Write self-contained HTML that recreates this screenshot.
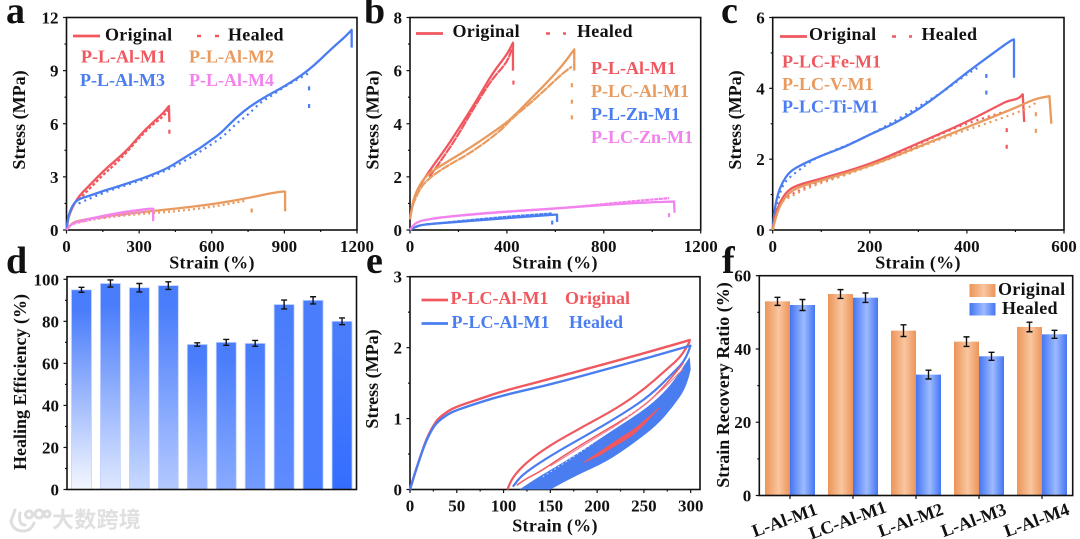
<!DOCTYPE html>
<html lang="en">
<head>
<meta charset="utf-8">
<title>Stress-strain and healing charts</title>
<style>
html,body{margin:0;padding:0;background:#fff;}
#figure{display:block;width:1080px;height:539px;filter:blur(0.35px);}
text{font-family:"Liberation Serif","Noto Serif CJK SC",serif;font-weight:bold;fill:#111;}
.t{font-size:18px;}
.letter{font-size:38px;}
.red{fill:#f0585f;}.org{fill:#e99a5e;}.blu{fill:#4a7df0;}.mag{fill:#f283ee;}
</style>
</head>
<body>
<svg id="figure" xmlns="http://www.w3.org/2000/svg" width="1080" height="539" viewBox="0 0 1080 539">
  <defs>
    <linearGradient id="orgBar" x1="0" x2="1" y1="0" y2="0"><stop offset="0" stop-color="#ec9458"/><stop offset=".55" stop-color="#f9c6a0"/><stop offset="1" stop-color="#ec9458"/></linearGradient>
    <linearGradient id="bluBar" x1="0" x2="1" y1="0" y2="0"><stop offset="0" stop-color="#4476f2"/><stop offset=".55" stop-color="#9dbaff"/><stop offset="1" stop-color="#4476f2"/></linearGradient>
  </defs>
  <rect width="1080" height="539" fill="#fff"/>

  <text class="letter" x="6" y="23">a</text>
  <text class="letter" x="364" y="23">b</text>
  <text class="letter" x="721" y="23">c</text>
  <text class="letter" x="6" y="273">d</text>
  <text class="letter" x="366" y="273">e</text>
  <text class="letter" x="722" y="273">f</text>

  <g>
    <line x1="73" x2="100" y1="36" y2="36" stroke="#f0585f" stroke-width="2.8"/>
    <text class="t" x="105" y="40.5" style="letter-spacing:.3px">Original</text>
    <line x1="197" x2="219" y1="36" y2="36" stroke="#f0585f" stroke-width="2.6" stroke-dasharray="4 14"/>
    <text class="t" x="228" y="40.5" style="letter-spacing:.3px">Healed</text>
    <text class="t red" x="81" y="62.5">P-L-Al-M1</text>
    <text class="t org" x="189" y="62.5">P-L-Al-M2</text>
    <text class="t blu" x="80" y="86">P-L-Al-M3</text>
    <text class="t mag" x="189" y="86">P-L-Al-M4</text>
  </g>
  <g>
    <line x1="416" x2="443" y1="33.5" y2="33.5" stroke="#f0585f" stroke-width="2.8"/>
    <text class="t" x="452.5" y="37" style="letter-spacing:.3px">Original</text>
    <line x1="546" x2="566" y1="33.5" y2="33.5" stroke="#f0585f" stroke-width="2.6" stroke-dasharray="4 13"/>
    <text class="t" x="577" y="37" style="letter-spacing:.3px">Healed</text>
    <text class="t red" x="591" y="74">P-L-Al-M1</text>
    <text class="t org" x="591" y="97">P-LC-Al-M1</text>
    <text class="t blu" x="591" y="120">P-L-Zn-M1</text>
    <text class="t mag" x="591" y="143">P-LC-Zn-M1</text>
  </g>
  <g>
    <line x1="780" x2="807" y1="36.5" y2="36.5" stroke="#f0585f" stroke-width="2.8"/>
    <text class="t" x="809" y="40" style="letter-spacing:.3px">Original</text>
    <line x1="892" x2="912" y1="36.5" y2="36.5" stroke="#f0585f" stroke-width="2.6" stroke-dasharray="4 13"/>
    <text class="t" x="921.5" y="40" style="letter-spacing:.3px">Healed</text>
    <text class="t red" x="782" y="67.5">P-LC-Fe-M1</text>
    <text class="t org" x="782" y="90">P-LC-V-M1</text>
    <text class="t blu" x="782" y="112.5">P-LC-Ti-M1</text>
  </g>
  <g>
    <line x1="421.5" x2="448" y1="300" y2="300" stroke="#f0585f" stroke-width="2.8"/>
    <text class="t red" x="450.5" y="304">P-LC-Al-M1</text>
    <text class="t red" x="565" y="304">Original</text>
    <line x1="421.5" x2="448" y1="323.5" y2="323.5" stroke="#4a7df0" stroke-width="2.8"/>
    <text class="t blu" x="451.5" y="328">P-LC-Al-M1</text>
    <text class="t blu" x="569" y="328">Healed</text>
  </g>
  <g>
    <rect x="969.5" y="284" width="26" height="13" fill="url(#orgBar)"/>
    <text class="t" x="998" y="295" style="letter-spacing:.3px">Original</text>
    <rect x="969.5" y="303" width="26" height="12.5" fill="url(#bluBar)"/>
    <text class="t" x="1002" y="314" style="letter-spacing:.3px">Healed</text>
  </g>

  <g>
    <path d="M15 510 L11 521 Q13 531 23 531 Q31 531 34 523 M20 513 Q18 525 25 525 M29 511 a3.5 3.5 0 1 0 .1 0 M39 510 a4 4 0 1 0 .1 0 M47 511 a3 3 0 1 0 .1 0" fill="none" stroke="#dedede" stroke-width="3" stroke-linecap="round"/>
    <text x="52" y="527.5" style="font-family:'Liberation Sans','Noto Sans CJK SC',sans-serif;font-size:22px;fill:#e0e0e0;letter-spacing:.3px">大数跨境</text>
  </g>

  <g id="plots"></g>
</svg>

<script>
/* ---------- Panel a data: [strain %, stress MPa] ---------- */
const aXTicks = [0, 300, 600, 900, 1200];
const aYTicks = [0, 3, 6, 9, 12];
const aM1Original = [[0,0],[5,0.5],[10,0.8],[25,1.3],[50,1.9],[100,2.6],[150,3.3],[200,3.9],[250,4.5],[300,5.3],[350,6.0],[400,6.6],[423,7.0],[425,6.1]];
const aM1Healed = [[50,1.7],[100,2.4],[150,3.1],[200,3.7],[250,4.4],[300,5.2],[350,5.9],[400,6.4],[420,6.8]];
const aM1Dots = [[425,5.55]];
const aM2Original = [[0,0],[10,0.2],[30,0.45],[70,0.58],[150,0.75],[300,1.0],[450,1.2],[600,1.45],[750,1.8],[850,2.1],[900,2.18],[903,2.15],[903,1.05]];
const aM2Healed = [[30,0.4],[150,0.7],[300,0.9],[450,1.05],[600,1.3],[740,1.65]];
const aM2Dots = [[765,1.1]];
const aM3Original = [[0,0],[5,0.6],[15,1.1],[30,1.5],[50,1.75],[100,1.95],[150,2.2],[200,2.4],[300,2.85],[350,3.1],[420,3.5],[500,4.2],[550,4.6],[600,5.1],[640,5.5],[700,6.35],[760,7.0],[830,7.6],[900,8.1],[1000,9.0],[1100,10.3],[1150,10.9],[1178,11.3],[1178,10.3]];
const aM3Healed = [[50,1.5],[150,2.1],[250,2.55],[350,3.0],[450,3.6],[550,4.4],[650,5.3],[700,6.0],[750,6.5],[800,7.2],[850,7.6],[900,8.1],[1000,8.85]];
const aM3Dots = [[1002,8.0],[1002,7.0]];
const aM4Original = [[0,0],[10,0.2],[30,0.4],[70,0.55],[150,0.8],[250,1.05],[340,1.2],[358,1.2],[358,0.5]];
const aM4Healed = [[30,0.35],[100,0.6],[200,0.8],[330,1.05]];

/* ---------- Panel b data ---------- */
const bXTicks = [0, 400, 800, 1200];
const bYTicks = [0, 2, 4, 6, 8];
const bAlOriginal = [[0,0.4],[10,1.0],[30,1.5],[70,2.1],[150,3.1],[200,3.8],[270,4.8],[340,5.9],[400,6.6],[425,7.05],[425,6.0]];
const bAlHealed = [[80,2.0],[150,2.9],[200,3.6],[270,4.7],[340,5.7],[400,6.3],[420,6.8]];
const bAlDots = [[427,5.55]];
const bLcAlOriginal = [[0,0.4],[10,1.0],[30,1.55],[70,2.1],[150,2.55],[250,3.1],[370,3.85],[420,4.2],[500,4.95],[560,5.5],[630,6.2],[678,6.8],[678,6.0]];
const bLcAlHealed = [[10,0.9],[30,1.4],[70,1.9],[150,2.4],[250,2.9],[370,3.7],[420,4.2],[500,4.8],[560,5.3],[630,5.9],[668,6.15]];
const bLcAlDots = [[668,5.45],[668,4.83],[668,4.24]];
const bZnOriginal = [[0,0],[20,0.12],[60,0.22],[200,0.3],[400,0.45],[600,0.58],[607,0.58],[607,0.3]];
const bZnHealed = [[60,0.2],[200,0.33],[400,0.5],[585,0.62]];
const bZnDots = [[587,0.28]];
const bLcZnOriginal = [[0,0],[10,0.15],[30,0.3],[70,0.4],[200,0.55],[400,0.7],[600,0.8],[800,0.95],[1000,1.05],[1090,1.07],[1092,0.65]];
const bLcZnHealed = [[100,0.45],[300,0.62],[500,0.75],[700,0.88],[900,1.07],[1070,1.2]];
const bLcZnDots = [[1069,0.56]];

/* ---------- Panel c data ---------- */
const cXTicks = [0, 200, 400, 600];
const cYTicks = [0, 2, 4, 6];
const cFeOriginal = [[0,0],[5,0.4],[15,0.8],[30,1.1],[50,1.27],[100,1.45],[200,1.85],[300,2.45],[400,3.05],[470,3.55],[485,3.65],[505,3.7],[515,3.83],[518,3.05]];
const cFeHealed = [[20,0.85],[60,1.2],[150,1.55],[250,2.1],[320,2.55],[370,2.85],[420,3.1],[480,3.35]];
const cFeDots = [[482,2.82],[482,2.35]];
const cVOriginal = [[0,0],[5,0.3],[15,0.7],[30,1.0],[50,1.2],[100,1.4],[200,1.8],[300,2.35],[400,2.9],[500,3.45],[540,3.7],[570,3.78],[574,3.0]];
const cVHealed = [[20,0.8],[60,1.15],[150,1.55],[250,2.05],[350,2.6],[450,3.05],[520,3.4],[543,3.6]];
const cVDots = [[542,3.27],[542,2.8]];
const cTiOriginal = [[0,0],[3,0.5],[10,1.0],[20,1.35],[35,1.65],[60,1.85],[100,2.1],[150,2.35],[200,2.7],[250,3.0],[300,3.4],[350,3.9],[400,4.45],[450,4.95],[490,5.35],[497,5.38],[497,4.3]];
const cTiHealed = [[3,0.4],[12,0.9],[20,1.25],[35,1.5],[70,1.85],[90,2.05],[200,2.65],[345,3.85],[370,4.1],[400,4.4],[425,4.6]];
const cTiDots = [[440,4.35],[440,3.88]];

/* ---------- Panel d data ---------- */
const dYTicks = [0, 20, 40, 60, 80, 100];
const dEfficiency = [95, 98, 96, 97, 69, 70, 69.5, 88, 90, 80];
const dErrors = [1.2, 1.7, 2.0, 1.8, 0.8, 1.4, 1.4, 2.1, 1.7, 1.6];

/* ---------- Panel e data ---------- */
const eXTicks = [0, 50, 100, 150, 200, 250, 300];
const eYTicks = [0, 1, 2, 3];
const eOriginalLoad = [[0,0],[5,0.22],[10,0.42],[15,0.62],[20,0.78],[25,0.9],[30,1.0],[40,1.1],[50,1.17],[75,1.28],[100,1.39],[150,1.56],[200,1.74],[250,1.92],[300,2.11]];
const eHealedLoad = [[0,0],[5,0.22],[10,0.42],[15,0.61],[20,0.76],[25,0.88],[30,0.96],[40,1.06],[50,1.12],[75,1.23],[100,1.33],[150,1.48],[200,1.66],[250,1.84],[300,2.03]];
const eOriginalUnload = [[299,2.09],[292,1.9],[274,1.69],[249,1.40],[221,1.145],[185,0.886],[150,0.628],[125,0.39],[110,0.18],[104,0.0]];
const eHealedUnload = [[300,2.04],[296,1.85],[281,1.64],[257,1.33],[228,1.07],[192,0.79],[157,0.53],[132,0.32],[118,0.18],[110,0.04]];
const eOriginalSecond = [[292,1.78],[268,1.38],[239,1.07],[203,0.79],[168,0.51],[139,0.25],[125,0.16],[114,0.06]];
const eHealedBand = [[117,0],[135,0.157],[150,0.275],[182,0.53],[217,0.84],[253,1.145],[278,1.45],[299,1.87],[300,1.69],[296,1.45],[281,1.166],[264,0.906],[239,0.65],[210,0.39],[178,0.2],[150,0]];
const eGapStreak = [[142,0.18],[178,0.48],[217,0.86],[253,1.24]];
const eOriginalStreak = [[150,0.33],[190,0.66],[230,0.98],[268,1.38],[292,1.7]];
const eOriginalLens = [[185,0.378],[203,0.53],[221,0.697],[239,0.84],[253,1.0],[267,1.16],[253,0.957],[239,0.77],[221,0.63],[203,0.485]];

/* ---------- Panel f data ---------- */
const fCategories = ["L-Al-M1", "LC-Al-M1", "L-Al-M2", "L-Al-M3", "L-Al-M4"];
const fYTicks = [0, 20, 40, 60];
const fOriginal = [53, 55, 45, 42, 46];
const fHealed = [52, 54, 33, 38, 44];
const fOriginalErr = [1.1, 1.2, 1.6, 1.3, 1.3];
const fHealedErr = [1.5, 1.3, 1.2, 1.1, 1.1];

const NS = 'http://www.w3.org/2000/svg';
const root = document.getElementById('plots');
const RED = '#f0585f', ORG = '#e99a5e', BLU = '#4a7df0', MAG = '#f283ee', INK = '#111';

function make(tag, parent, props) {
  const node = document.createElementNS(NS, tag);
  for (const key in props) node.setAttribute(key, props[key]);
  parent.appendChild(node);
  return node;
}
function linear(d0, d1, r0, r1) {
  return function (v) { return r0 + (v - d0) * (r1 - r0) / (d1 - d0); };
}
/* Rounds a vertex only where the curve keeps its heading, so fracture drops stay sharp. */
function pathOf(data, sx, sy, close) {
  const p = data.map(function (q) { return [sx(q[0]), sy(q[1])]; });
  let d = 'M' + p[0][0].toFixed(2) + ' ' + p[0][1].toFixed(2);
  for (let i = 1; i < p.length; i++) {
    const a = p[i - 1], b = p[i], c = p[i + 1];
    const same = c && Math.sign(b[0] - a[0]) === Math.sign(c[0] - b[0]) && Math.sign(b[1] - a[1]) === Math.sign(c[1] - b[1]);
    if (same) {
      d += 'Q' + b[0].toFixed(2) + ' ' + b[1].toFixed(2) + ' ' + ((b[0] + c[0]) / 2).toFixed(2) + ' ' + ((b[1] + c[1]) / 2).toFixed(2);
    } else {
      d += 'L' + b[0].toFixed(2) + ' ' + b[1].toFixed(2);
    }
  }
  return d + (close ? 'Z' : '');
}
function drawLine(parent, name, data, sx, sy, color, width, dash) {
  const line = make('path', parent, {d: pathOf(data, sx, sy, false), fill: 'none', stroke: color, 'stroke-width': width, 'stroke-linejoin': 'round'});
  if (dash) line.setAttribute('stroke-dasharray', dash);
  
  
  return line;
}
function drawDots(parent, name, data, sx, sy, color) {
  data.forEach(function (q) {
    const dot = make('line', parent, {x1: sx(q[0]), x2: sx(q[0]), y1: sy(q[1]) - 2, y2: sy(q[1]) + 2, stroke: color, 'stroke-width': 2.2});
    
    
  });
}
function drawText(parent, name, str, x, y, anchor, size) {
  const t = make('text', parent, {x: x, y: y, 'text-anchor': anchor, 'font-size': size});
  t.textContent = str;
  
  
  return t;
}
function drawTick(parent, name, x1, y1, x2, y2) {
  const tk = make('line', parent, {x1: x1, y1: y1, x2: x2, y2: y2, stroke: INK, 'stroke-width': 1.2});
  
  
}
function frame(id, box, sx, sy, xTicks, yTicks, xBase, xTitle, xTitleX, xTitleBase, yTitle, yTitleX, yTitleY) {
  const g = make('g', root, {});
  
  
  const border = make('rect', g, {x: box.l, y: box.t, width: box.r - box.l, height: box.b - box.t, fill: 'none', stroke: INK, 'stroke-width': 1.6});
  
  
  if (xTicks) {
    xTicks.forEach(function (v, i) {
      drawTick(g, 'x-tick', sx(v), box.b, sx(v), box.b + 3.5);
      drawText(g, 'x-tick-label', String(v), sx(v), xBase, 'middle', 17);
      if (i < xTicks.length - 1) drawTick(g, 'x-minor-tick', sx((v + xTicks[i + 1]) / 2), box.b, sx((v + xTicks[i + 1]) / 2), box.b + 2);
    });
  }
  yTicks.forEach(function (v, i) {
    drawTick(g, 'y-tick', box.l, sy(v), box.l - 3.5, sy(v));
    drawText(g, 'y-tick-label', String(v), box.l - 8, sy(v) + 6, 'end', 17);
    if (i < yTicks.length - 1) drawTick(g, 'y-minor-tick', box.l, sy((v + yTicks[i + 1]) / 2), box.l - 2, sy((v + yTicks[i + 1]) / 2));
  });
  if (xTitle) drawText(g, 'x-axis-title', xTitle, xTitleX, xTitleBase, 'middle', 18).setAttribute('style', 'letter-spacing:.3px');
  const yt = drawText(g, 'y-axis-title', yTitle, 0, 0, 'middle', 18);
  yt.setAttribute('transform', 'translate(' + yTitleX + ',' + yTitleY + ') rotate(-90)');
  return g;
}
function drawSeries(parent, id, label, color, orig, heal, dots, sx, sy, healDash) {
  const g = make('g', parent, {});
  
  
  if (heal) drawLine(g, label + '-healed-line', heal, sx, sy, color, 2.2, healDash);
  if (dots) drawDots(g, label + '-healed-fracture-dot', dots, sx, sy, color);
  drawLine(g, label + '-original-line', orig, sx, sy, color, 2.3);
}

/* Panel a */
(function () {
  const box = {l: 66.5, r: 357, t: 17.5, b: 230};
  const sx = linear(0, 1200, box.l, box.r), sy = linear(0, 12, box.b, box.t);
  const g = frame('a', box, sx, sy, aXTicks, aYTicks, 252, 'Strain (%)', 212, 268.5, 'Stress (MPa)', 25, 120);
  drawSeries(g, 'a', 'p-l-al-m1', RED, aM1Original, aM1Healed, aM1Dots, sx, sy, '3 2');
  drawSeries(g, 'a', 'p-l-al-m3', BLU, aM3Original, aM3Healed, aM3Dots, sx, sy, '2 4');
  drawSeries(g, 'a', 'p-l-al-m2', ORG, aM2Original, aM2Healed, aM2Dots, sx, sy, '2 3');
  drawSeries(g, 'a', 'p-l-al-m4', MAG, aM4Original, aM4Healed, null, sx, sy, '2 2');
})();

/* Panel b */
(function () {
  const box = {l: 410, r: 700.7, t: 17.5, b: 230};
  const sx = linear(0, 1200, box.l, box.r), sy = linear(0, 8, box.b, box.t);
  const g = frame('b', box, sx, sy, bXTicks, bYTicks, 252, 'Strain (%)', 555, 268.5, 'Stress (MPa)', 378.5, 120);
  drawSeries(g, 'b', 'p-l-al-m1', RED, bAlOriginal, bAlHealed, bAlDots, sx, sy, '9 0.6');
  drawSeries(g, 'b', 'p-lc-al-m1', ORG, bLcAlOriginal, bLcAlHealed, bLcAlDots, sx, sy, '9 0.6');
  drawSeries(g, 'b', 'p-l-zn-m1', BLU, bZnOriginal, bZnHealed, bZnDots, sx, sy, '4 0.6');
  drawSeries(g, 'b', 'p-lc-zn-m1', MAG, bLcZnOriginal, bLcZnHealed, bLcZnDots, sx, sy, '4 0.6');
})();

/* Panel c */
(function () {
  const box = {l: 772.7, r: 1064, t: 17.5, b: 230};
  const sx = linear(0, 600, box.l, box.r), sy = linear(0, 6, box.b, box.t);
  const g = frame('c', box, sx, sy, cXTicks, cYTicks, 252, 'Strain (%)', 918, 268.5, 'Stress (MPa)', 741, 120);
  drawSeries(g, 'c', 'p-lc-ti-m1', BLU, cTiOriginal, cTiHealed, cTiDots, sx, sy, '2 4');
  drawSeries(g, 'c', 'p-lc-fe-m1', RED, cFeOriginal, cFeHealed, cFeDots, sx, sy, '2 4');
  drawSeries(g, 'c', 'p-lc-v-m1', ORG, cVOriginal, cVHealed, cVDots, sx, sy, '2 4');
})();

/* Panel d */
(function () {
  const box = {l: 67, r: 356.5, t: 276.7, b: 489.5};
  const slot = (box.r - box.l) / dEfficiency.length;
  const sx = function (i) { return box.l + slot * (i + 0.5); };
  const sy = linear(0, 100, box.b, 279.3);
  const defs = document.querySelector('defs');
  dEfficiency.forEach(function (v, i) {
    const f = i / (dEfficiency.length - 1);
    const r = Math.round(244 + (52 - 244) * f), gr = Math.round(247 + (110 - 247) * f);
    const grad = make('linearGradient', defs, {id: 'dBar' + i, x1: 0, x2: 0, y1: 0, y2: 1});
    make('stop', grad, {offset: 0, 'stop-color': '#4a7dfb'});
    make('stop', grad, {offset: 0.1, 'stop-color': '#4a7dfb'});
    make('stop', grad, {offset: 1, 'stop-color': 'rgb(' + r + ',' + gr + ',255)'});
    const bar = make('rect', root, {x: sx(i) - 10, y: sy(v), width: 20, height: box.b - sy(v), fill: 'url(#dBar' + i + ')', stroke: '#c3d3ff', 'stroke-width': 0.8});
    
    
    const err = make('path', root, {d: 'M' + (sx(i) - 3) + ' ' + sy(v + dErrors[i]) + 'h6M' + sx(i) + ' ' + sy(v + dErrors[i]) + 'V' + sy(v - dErrors[i]) + 'M' + (sx(i) - 3) + ' ' + sy(v - dErrors[i]) + 'h6', fill: 'none', stroke: INK, 'stroke-width': 1.4});
    
    
  });
  frame('d', box, null, sy, null, dYTicks, 0, null, 0, 0, 'Healing Efficiency (%)', 26, 382);
})();

/* Panel e */
(function () {
  const box = {l: 410, r: 700, t: 276.7, b: 489.5};
  const sx = linear(0, 300, box.l, 690.7), sy = linear(0, 3, box.b, box.t);
  const g = frame('e', box, sx, sy, eXTicks, eYTicks, 511.5, 'Strain (%)', 555, 531.5, 'Stress (MPa)', 378, 379);
  drawLine(g, 'original-unload-line', eOriginalUnload, sx, sy, RED, 2.2);
  drawLine(g, 'healed-unload-line', eHealedUnload, sx, sy, BLU, 2.2);
  const band = make('path', g, {d: pathOf(eHealedBand, sx, sy, true), fill: BLU});
  
  
  drawLine(g, 'original-second-cycle', eOriginalSecond, sx, sy, RED, 1.5);
  drawLine(g, 'cycle-gap-specks', eGapStreak, sx, sy, '#dfe8ff', 0.9, '1.5 3');
  drawLine(g, 'original-cycle-streak', eOriginalStreak, sx, sy, '#ef7a8c', 1);
  const lens = make('path', g, {d: pathOf(eOriginalLens, sx, sy, true), fill: RED, stroke: RED, 'stroke-width': 0.8});
  
  
  drawLine(g, 'original-load-line', eOriginalLoad, sx, sy, RED, 2.4);
  drawLine(g, 'healed-load-line', eHealedLoad, sx, sy, BLU, 2.4);
})();

/* Panel f */
(function () {
  const box = {l: 759.3, r: 1072.7, t: 275.7, b: 495.5};
  const sx = function (i) { return 790 + 63 * i; };
  const sy = linear(0, 60, box.b, box.t);
  fCategories.forEach(function (c, i) {
    const a = make('rect', root, {x: sx(i) - 25, y: sy(fOriginal[i]), width: 25, height: box.b - sy(fOriginal[i]), fill: 'url(#orgBar)'});
    
    
    const b = make('rect', root, {x: sx(i), y: sy(fHealed[i]), width: 25, height: box.b - sy(fHealed[i]), fill: 'url(#bluBar)'});
    
    
    [[sx(i) - 12.5, fOriginal[i], fOriginalErr[i]], [sx(i) + 12.5, fHealed[i], fHealedErr[i]]].forEach(function (e) {
      const er = make('path', root, {d: 'M' + (e[0] - 3) + ' ' + sy(e[1] + e[2]) + 'h6M' + e[0] + ' ' + sy(e[1] + e[2]) + 'V' + sy(e[1] - e[2]) + 'M' + (e[0] - 3) + ' ' + sy(e[1] - e[2]) + 'h6', fill: 'none', stroke: INK, 'stroke-width': 1.4});
      
      
    });
  });
  const g = frame('f', box, null, sy, null, fYTicks, 0, null, 0, 0, 'Strain Recovery Ratio (%)', 729, 385);
  fCategories.forEach(function (c, i) {
    drawTick(g, 'x-tick', sx(i), box.b, sx(i), box.b + 3.5);
    const lbl = drawText(g, 'x-tick-label', c, 0, 6, 'middle', 18);
    lbl.setAttribute('transform', 'translate(' + (sx(i) - 5.5) + ',520) rotate(-20)');
  });
})();
</script>
</body>
</html>
